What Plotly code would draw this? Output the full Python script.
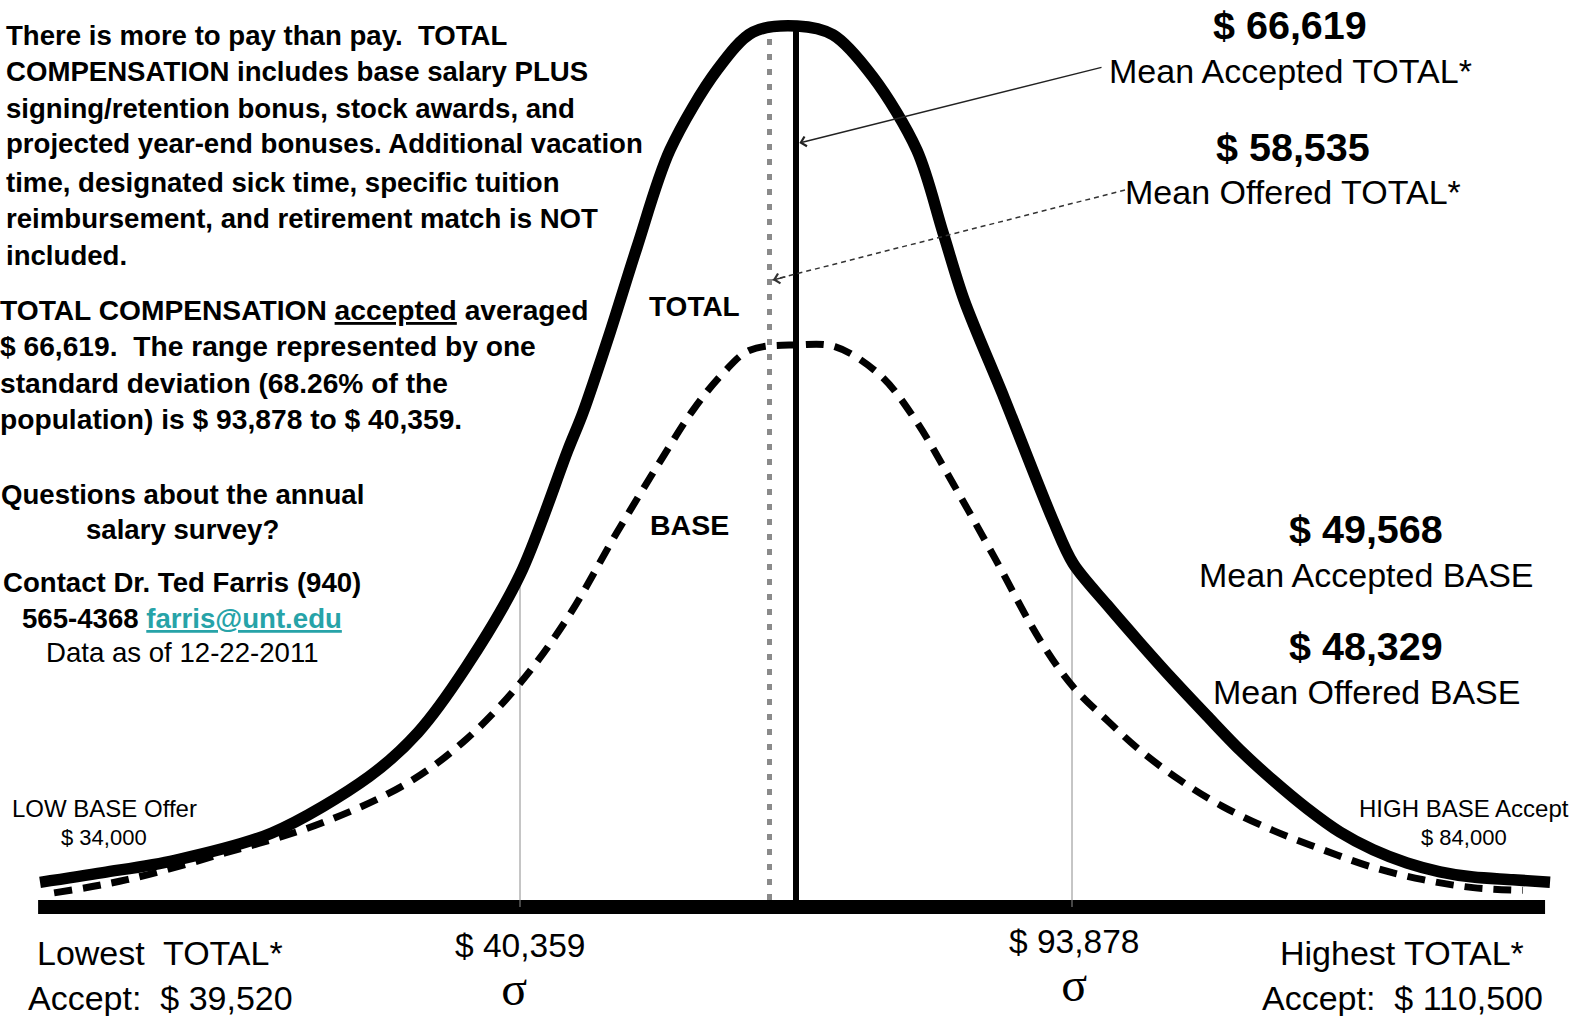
import numpy as np
import plotly.graph_objects as go

# ---------------- data ----------------
# x: distance from the mean accepted TOTAL, in standard deviations; y: relative curve height (TOTAL peak = 1)
total_z = [-2.739, -2.511, -2.250, -1.899, -1.547, -1.370, -1.196, -1.000, -0.826, -0.772,
           -0.674, -0.576, -0.457, -0.286, -0.156, 0.004,
           0.134, 0.279, 0.438, 0.533, 0.609, 0.754, 0.931, 1.004, 1.127, 1.246,
           1.366, 1.489, 1.609, 1.728, 1.851, 1.971, 2.091, 2.214, 2.333, 2.453, 2.598, 2.732]
total_h = [0.028, 0.039, 0.053, 0.084, 0.148, 0.198, 0.272, 0.377, 0.519, 0.561,
           0.652, 0.749, 0.859, 0.950, 0.993, 1.000,
           0.990, 0.942, 0.859, 0.765, 0.689, 0.578, 0.439, 0.390, 0.343, 0.300,
           0.258, 0.217, 0.178, 0.144, 0.112, 0.085, 0.065, 0.050, 0.040, 0.034, 0.031, 0.028]
base_z = [-2.688, -2.424, -2.072, -1.721, -1.406, -1.196, -1.000, -0.826, -0.649, -0.482,
          -0.373, -0.264, -0.167, 0.004,
          0.141, 0.304, 0.428, 0.572, 0.717, 0.884, 1.004, 1.127, 1.246, 1.391,
          1.547, 1.728, 1.909, 2.091, 2.272, 2.453, 2.634]
base_h = [0.016, 0.031, 0.061, 0.095, 0.141, 0.190, 0.254, 0.329, 0.425, 0.511,
          0.564, 0.606, 0.632, 0.638,
          0.636, 0.604, 0.555, 0.479, 0.398, 0.303, 0.250, 0.212, 0.178, 0.144,
          0.114, 0.087, 0.065, 0.045, 0.031, 0.022, 0.019]
axis_z = [-2.746, 2.714]

sigma_z = [-1.0, 1.0]
sigma_values = [40359, 93878]
mean_accept_total_z = 0.0
mean_offer_total_z = -0.096

summary_values = [66619, 58535, 49568, 48329]
summary_labels = ["Mean Accepted TOTAL*", "Mean Offered TOTAL*", "Mean Accepted BASE", "Mean Offered BASE"]
extreme_labels = ["LOW BASE Offer", "HIGH BASE Accept"]
extreme_values = [34000, 84000]
total_extreme_labels = ["Lowest\u00a0 TOTAL*", "Highest TOTAL*"]
total_extreme_values = [39520, 110500]

para1 = ["There is more to pay than pay.\u00a0 TOTAL",
         "COMPENSATION includes base salary PLUS",
         "signing/retention bonus, stock awards, and",
         "projected year-end bonuses. Additional vacation",
         "time, designated sick time, specific tuition",
         "reimbursement, and retirement match is NOT",
         "included."]
para2 = ["TOTAL COMPENSATION <u>accepted</u> averaged",
         "$ 66,619.\u00a0 The range represented by one",
         "standard deviation (68.26% of the",
         "population) is $ 93,878 to $ 40,359."]
para3 = ["<b>Questions about the annual</b>",
         "<b>salary survey?</b>",
         "<b>Contact Dr. Ted Farris (940)</b>",
         "<b>565-4368 <span style='color:#27a3a8'><u>farris@unt.edu</u></span></b>",
         "Data as of 12-22-2011"]

# ---------------- layout helpers ----------------
W, H = 1583, 1016
FONT = "Liberation Sans, Arial, sans-serif"
SERIF = "Liberation Serif, Times New Roman, serif"


def zx(px):
    return (px - 796) / 276.0


def hy(py):
    return (907 - py) / 881.0


def money(v):
    return "$ {:,}".format(v)


fig = go.Figure()

# horizontal base line
fig.add_trace(go.Scatter(x=axis_z, y=[0, 0], mode="lines",
                         line=dict(color="black", width=14), hoverinfo="skip"))
# sigma lines
for z in sigma_z:
    top = float(np.interp(z, total_z, total_h))
    fig.add_trace(go.Scatter(x=[z, z], y=[0, top], mode="lines",
                             line=dict(color="#8c8c8c", width=1), hoverinfo="skip"))
# BASE curve (dashed)
fig.add_trace(go.Scatter(x=base_z, y=base_h, mode="lines",
                         line=dict(color="black", width=7, dash="18px,11px", shape="spline", smoothing=1.0),
                         hoverinfo="skip"))
# TOTAL curve
fig.add_trace(go.Scatter(x=total_z, y=total_h, mode="lines",
                         line=dict(color="black", width=11.5, shape="spline", smoothing=0.9),
                         hoverinfo="skip"))
# mean offered TOTAL (grey dotted)
top = float(np.interp(mean_offer_total_z, total_z, total_h))
fig.add_trace(go.Scatter(x=[mean_offer_total_z] * 2, y=[0.008, top - 0.006], mode="lines",
                         line=dict(color="#8a8a8a", width=5, dash="6px,9px"), hoverinfo="skip"))
# mean accepted TOTAL (solid)
top = float(np.interp(mean_accept_total_z, total_z, total_h))
fig.add_trace(go.Scatter(x=[mean_accept_total_z] * 2, y=[0, top], mode="lines",
                         line=dict(color="black", width=6), hoverinfo="skip"))
# dashed arrow shaft for mean offered TOTAL
fig.add_trace(go.Scatter(x=[zx(1125), mean_offer_total_z + 0.01], y=[hy(190), hy(280)], mode="lines",
                         line=dict(color="#333333", width=1.5, dash="5px,4px"), hoverinfo="skip"))

ann = []


def txt(text, px, py, size, anchor="center", bold=False, family=FONT, color="black", yanchor="middle"):
    if bold:
        text = "<b>" + text + "</b>"
    ann.append(dict(x=px / W, y=1 - py / H, xref="paper", yref="paper", text=text,
                    showarrow=False, xanchor=anchor, yanchor=yanchor,
                    font=dict(family=family, size=size, color=color)))


for line, py in zip(para1, [35, 72, 108, 144, 182, 218, 255]):
    txt(line, 4, py, 27.6, anchor="left", bold=True)
for line, py in zip(para2, [310, 346, 383, 419]):
    txt(line, -2, py, 28.2, anchor="left", bold=True)
for line, py in zip(para3, [494, 529, 582, 618, 652]):
    txt(line, 182, py, 27.6)

# right-hand summary labels
for v, lab, (px, py_v, py_l) in zip(summary_values, summary_labels,
                                    [(1290, 25, 71), (1293, 147, 192), (1366, 529, 575), (1366, 646, 692)]):
    txt(money(v), px, py_v, 39.5, bold=True)
    txt(lab, px, py_l, 34)

# curve labels
txt("TOTAL", 694, 306, 28, bold=True)
txt("BASE", 689, 525, 28.5, bold=True)

# base extremes
for lab, v, px in zip(extreme_labels, extreme_values, [104, 1464]):
    txt(lab, px, 808, 24)
    txt(money(v), px, 837, 22)

# total extremes
for lab, v, px in zip(total_extreme_labels, total_extreme_values, [160, 1402]):
    txt(lab, px, 953, 34)
    txt("Accept:\u00a0 " + money(v), px, 998, 34)

# sigma labels (value and sigma symbol in one text block)
for v, (px, py), pad in zip(sigma_values, [(520, 971), (1074, 967)], ["\u00a0", ""]):
    txt("<span style='font-size:33.5px'>" + money(v) + "</span><br>"
        "<span style='font-family:Liberation Serif, serif;font-size:48px'>\u03c3" + pad + "</span>",
        px, py, 37)

# arrows
ann.append(dict(x=mean_accept_total_z + 0.012, y=hy(143), xref="x", yref="y",
                ax=zx(1103), ay=hy(67), axref="x", ayref="y", text="",
                showarrow=True, arrowhead=4, arrowsize=1.3, arrowwidth=1.5, arrowcolor="#222222", standoff=0))
ann.append(dict(x=mean_offer_total_z + 0.012, y=hy(280), xref="x", yref="y",
                ax=zx(787), ay=hy(276.5), axref="x", ayref="y", text="",
                showarrow=True, arrowhead=4, arrowsize=1.3, arrowwidth=1.5, arrowcolor="#333333", standoff=0))

fig.update_layout(
    width=W, height=H,
    margin=dict(l=0, r=0, t=0, b=0),
    paper_bgcolor="white", plot_bgcolor="white",
    showlegend=False,
    xaxis=dict(range=[zx(0), zx(W)], visible=False, fixedrange=True),
    yaxis=dict(range=[hy(H), hy(0)], visible=False, fixedrange=True),
    annotations=ann,
)

fig.write_html("out.html", config={"displayModeBar": False},
               post_script="document.body.style.margin='0';document.body.style.overflow='hidden';")
